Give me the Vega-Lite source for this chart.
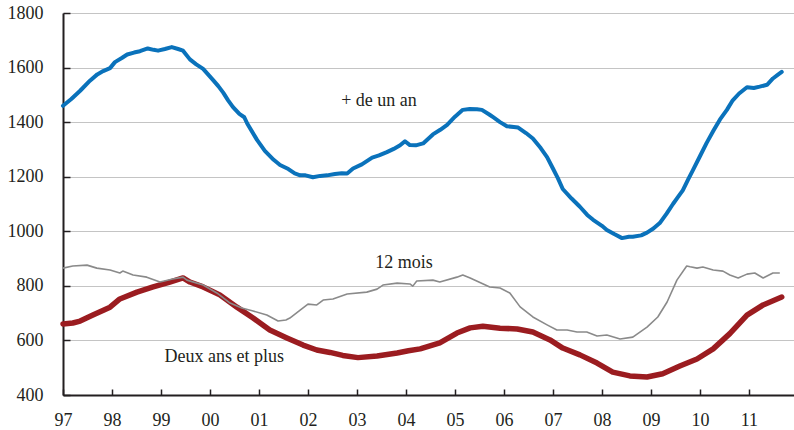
{
  "$schema": "https://vega.github.io/schema/vega-lite/v6.json",
  "width": 731,
  "height": 382,
  "autosize": {"type": "none"},
  "padding": {"left": 63, "top": 13, "right": 0, "bottom": 35},
  "background": "white",
  "config": {
    "view": {"stroke": null},
    "font": "Liberation Serif",
    "axis": {
      "domainColor": "#231f20",
      "domainWidth": 2,
      "tickColor": "#231f20",
      "tickWidth": 1.5,
      "labelColor": "#231f20",
      "labelFont": "Liberation Serif",
      "labelFontSize": 18,
      "title": null
    },
    "axisX": {"grid": false, "tickSize": -6, "labelPadding": 22, "labelFlush": false},
    "axisY": {"grid": true, "gridColor": "#c4c4c4", "gridWidth": 1.2, "tickSize": -7, "labelPadding": 27}
  },
  "datasets": {
    "series": [
      {"series": "Deux ans et plus", "year": 1997.00, "value": 660},
      {"series": "Deux ans et plus", "year": 1997.20, "value": 664},
      {"series": "Deux ans et plus", "year": 1997.35, "value": 671},
      {"series": "Deux ans et plus", "year": 1997.61, "value": 693},
      {"series": "Deux ans et plus", "year": 1997.96, "value": 722},
      {"series": "Deux ans et plus", "year": 1998.16, "value": 752},
      {"series": "Deux ans et plus", "year": 1998.51, "value": 777},
      {"series": "Deux ans et plus", "year": 1998.84, "value": 796},
      {"series": "Deux ans et plus", "year": 1999.18, "value": 814},
      {"series": "Deux ans et plus", "year": 1999.45, "value": 829},
      {"series": "Deux ans et plus", "year": 1999.59, "value": 814},
      {"series": "Deux ans et plus", "year": 1999.86, "value": 796},
      {"series": "Deux ans et plus", "year": 2000.20, "value": 767},
      {"series": "Deux ans et plus", "year": 2000.55, "value": 722},
      {"series": "Deux ans et plus", "year": 2000.88, "value": 682},
      {"series": "Deux ans et plus", "year": 2001.22, "value": 638},
      {"series": "Deux ans et plus", "year": 2001.57, "value": 609},
      {"series": "Deux ans et plus", "year": 2001.90, "value": 583},
      {"series": "Deux ans et plus", "year": 2002.18, "value": 565},
      {"series": "Deux ans et plus", "year": 2002.45, "value": 556},
      {"series": "Deux ans et plus", "year": 2002.71, "value": 545},
      {"series": "Deux ans et plus", "year": 2003.02, "value": 537},
      {"series": "Deux ans et plus", "year": 2003.41, "value": 543},
      {"series": "Deux ans et plus", "year": 2003.82, "value": 554},
      {"series": "Deux ans et plus", "year": 2004.05, "value": 562},
      {"series": "Deux ans et plus", "year": 2004.29, "value": 569},
      {"series": "Deux ans et plus", "year": 2004.69, "value": 591},
      {"series": "Deux ans et plus", "year": 2005.04, "value": 627},
      {"series": "Deux ans et plus", "year": 2005.31, "value": 646},
      {"series": "Deux ans et plus", "year": 2005.57, "value": 652},
      {"series": "Deux ans et plus", "year": 2005.92, "value": 645},
      {"series": "Deux ans et plus", "year": 2006.27, "value": 642},
      {"series": "Deux ans et plus", "year": 2006.59, "value": 631},
      {"series": "Deux ans et plus", "year": 2006.94, "value": 602},
      {"series": "Deux ans et plus", "year": 2007.20, "value": 572},
      {"series": "Deux ans et plus", "year": 2007.55, "value": 547},
      {"series": "Deux ans et plus", "year": 2007.90, "value": 517},
      {"series": "Deux ans et plus", "year": 2008.22, "value": 484},
      {"series": "Deux ans et plus", "year": 2008.57, "value": 470},
      {"series": "Deux ans et plus", "year": 2008.92, "value": 466},
      {"series": "Deux ans et plus", "year": 2009.24, "value": 478},
      {"series": "Deux ans et plus", "year": 2009.59, "value": 506},
      {"series": "Deux ans et plus", "year": 2009.94, "value": 532},
      {"series": "Deux ans et plus", "year": 2010.27, "value": 569},
      {"series": "Deux ans et plus", "year": 2010.61, "value": 625},
      {"series": "Deux ans et plus", "year": 2010.96, "value": 693},
      {"series": "Deux ans et plus", "year": 2011.29, "value": 730},
      {"series": "Deux ans et plus", "year": 2011.67, "value": 759},

      {"series": "12 mois", "year": 1997.00, "value": 865},
      {"series": "12 mois", "year": 1997.20, "value": 873},
      {"series": "12 mois", "year": 1997.49, "value": 876},
      {"series": "12 mois", "year": 1997.69, "value": 865},
      {"series": "12 mois", "year": 1997.96, "value": 858},
      {"series": "12 mois", "year": 1998.16, "value": 847},
      {"series": "12 mois", "year": 1998.22, "value": 854},
      {"series": "12 mois", "year": 1998.43, "value": 840},
      {"series": "12 mois", "year": 1998.71, "value": 832},
      {"series": "12 mois", "year": 1998.98, "value": 814},
      {"series": "12 mois", "year": 1999.24, "value": 825},
      {"series": "12 mois", "year": 1999.45, "value": 832},
      {"series": "12 mois", "year": 1999.53, "value": 821},
      {"series": "12 mois", "year": 1999.86, "value": 803},
      {"series": "12 mois", "year": 2000.14, "value": 774},
      {"series": "12 mois", "year": 2000.41, "value": 737},
      {"series": "12 mois", "year": 2000.65, "value": 719},
      {"series": "12 mois", "year": 2000.88, "value": 708},
      {"series": "12 mois", "year": 2001.16, "value": 693},
      {"series": "12 mois", "year": 2001.39, "value": 671},
      {"series": "12 mois", "year": 2001.55, "value": 675},
      {"series": "12 mois", "year": 2001.63, "value": 682},
      {"series": "12 mois", "year": 2001.84, "value": 711},
      {"series": "12 mois", "year": 2002.00, "value": 733},
      {"series": "12 mois", "year": 2002.18, "value": 730},
      {"series": "12 mois", "year": 2002.31, "value": 748},
      {"series": "12 mois", "year": 2002.51, "value": 752},
      {"series": "12 mois", "year": 2002.80, "value": 770},
      {"series": "12 mois", "year": 2003.20, "value": 777},
      {"series": "12 mois", "year": 2003.41, "value": 788},
      {"series": "12 mois", "year": 2003.53, "value": 803},
      {"series": "12 mois", "year": 2003.82, "value": 810},
      {"series": "12 mois", "year": 2004.08, "value": 807},
      {"series": "12 mois", "year": 2004.14, "value": 799},
      {"series": "12 mois", "year": 2004.22, "value": 818},
      {"series": "12 mois", "year": 2004.55, "value": 821},
      {"series": "12 mois", "year": 2004.69, "value": 814},
      {"series": "12 mois", "year": 2005.04, "value": 832},
      {"series": "12 mois", "year": 2005.16, "value": 840},
      {"series": "12 mois", "year": 2005.31, "value": 829},
      {"series": "12 mois", "year": 2005.71, "value": 796},
      {"series": "12 mois", "year": 2005.92, "value": 792},
      {"series": "12 mois", "year": 2006.12, "value": 774},
      {"series": "12 mois", "year": 2006.33, "value": 723},
      {"series": "12 mois", "year": 2006.59, "value": 686},
      {"series": "12 mois", "year": 2006.88, "value": 657},
      {"series": "12 mois", "year": 2007.08, "value": 638},
      {"series": "12 mois", "year": 2007.29, "value": 638},
      {"series": "12 mois", "year": 2007.49, "value": 631},
      {"series": "12 mois", "year": 2007.69, "value": 631},
      {"series": "12 mois", "year": 2007.90, "value": 616},
      {"series": "12 mois", "year": 2008.10, "value": 620},
      {"series": "12 mois", "year": 2008.37, "value": 605},
      {"series": "12 mois", "year": 2008.63, "value": 612},
      {"series": "12 mois", "year": 2008.92, "value": 649},
      {"series": "12 mois", "year": 2009.14, "value": 686},
      {"series": "12 mois", "year": 2009.33, "value": 741},
      {"series": "12 mois", "year": 2009.53, "value": 821},
      {"series": "12 mois", "year": 2009.73, "value": 873},
      {"series": "12 mois", "year": 2009.80, "value": 870},
      {"series": "12 mois", "year": 2009.94, "value": 865},
      {"series": "12 mois", "year": 2010.06, "value": 869},
      {"series": "12 mois", "year": 2010.27, "value": 858},
      {"series": "12 mois", "year": 2010.47, "value": 854},
      {"series": "12 mois", "year": 2010.61, "value": 840},
      {"series": "12 mois", "year": 2010.78, "value": 829},
      {"series": "12 mois", "year": 2010.96, "value": 843},
      {"series": "12 mois", "year": 2011.12, "value": 847},
      {"series": "12 mois", "year": 2011.29, "value": 829},
      {"series": "12 mois", "year": 2011.49, "value": 847},
      {"series": "12 mois", "year": 2011.63, "value": 847},

      {"series": "+ de un an", "year": 1997.00, "value": 1460},
      {"series": "+ de un an", "year": 1997.17, "value": 1485},
      {"series": "+ de un an", "year": 1997.35, "value": 1515},
      {"series": "+ de un an", "year": 1997.55, "value": 1552},
      {"series": "+ de un an", "year": 1997.70, "value": 1575},
      {"series": "+ de un an", "year": 1997.82, "value": 1587},
      {"series": "+ de un an", "year": 1997.96, "value": 1598},
      {"series": "+ de un an", "year": 1998.06, "value": 1620},
      {"series": "+ de un an", "year": 1998.20, "value": 1635},
      {"series": "+ de un an", "year": 1998.31, "value": 1648},
      {"series": "+ de un an", "year": 1998.45, "value": 1655},
      {"series": "+ de un an", "year": 1998.57, "value": 1660},
      {"series": "+ de un an", "year": 1998.73, "value": 1670},
      {"series": "+ de un an", "year": 1998.85, "value": 1665},
      {"series": "+ de un an", "year": 1998.94, "value": 1662},
      {"series": "+ de un an", "year": 1999.08, "value": 1668},
      {"series": "+ de un an", "year": 1999.22, "value": 1675},
      {"series": "+ de un an", "year": 1999.35, "value": 1668},
      {"series": "+ de un an", "year": 1999.45, "value": 1662},
      {"series": "+ de un an", "year": 1999.59, "value": 1630},
      {"series": "+ de un an", "year": 1999.72, "value": 1612},
      {"series": "+ de un an", "year": 1999.86, "value": 1595},
      {"series": "+ de un an", "year": 2000.06, "value": 1555},
      {"series": "+ de un an", "year": 2000.17, "value": 1532},
      {"series": "+ de un an", "year": 2000.27, "value": 1508},
      {"series": "+ de un an", "year": 2000.37, "value": 1480},
      {"series": "+ de un an", "year": 2000.47, "value": 1455},
      {"series": "+ de un an", "year": 2000.60, "value": 1430},
      {"series": "+ de un an", "year": 2000.70, "value": 1418},
      {"series": "+ de un an", "year": 2000.76, "value": 1395},
      {"series": "+ de un an", "year": 2000.96, "value": 1335},
      {"series": "+ de un an", "year": 2001.12, "value": 1295},
      {"series": "+ de un an", "year": 2001.30, "value": 1262},
      {"series": "+ de un an", "year": 2001.43, "value": 1243},
      {"series": "+ de un an", "year": 2001.60, "value": 1228},
      {"series": "+ de un an", "year": 2001.73, "value": 1212},
      {"series": "+ de un an", "year": 2001.84, "value": 1205},
      {"series": "+ de un an", "year": 2001.95, "value": 1205},
      {"series": "+ de un an", "year": 2002.10, "value": 1198},
      {"series": "+ de un an", "year": 2002.25, "value": 1203},
      {"series": "+ de un an", "year": 2002.39, "value": 1205},
      {"series": "+ de un an", "year": 2002.55, "value": 1210},
      {"series": "+ de un an", "year": 2002.69, "value": 1213},
      {"series": "+ de un an", "year": 2002.80, "value": 1212},
      {"series": "+ de un an", "year": 2002.92, "value": 1230},
      {"series": "+ de un an", "year": 2003.10, "value": 1245},
      {"series": "+ de un an", "year": 2003.31, "value": 1270},
      {"series": "+ de un an", "year": 2003.45, "value": 1278},
      {"series": "+ de un an", "year": 2003.61, "value": 1290},
      {"series": "+ de un an", "year": 2003.75, "value": 1302},
      {"series": "+ de un an", "year": 2003.88, "value": 1315},
      {"series": "+ de un an", "year": 2003.98, "value": 1330},
      {"series": "+ de un an", "year": 2004.08, "value": 1316},
      {"series": "+ de un an", "year": 2004.20, "value": 1315},
      {"series": "+ de un an", "year": 2004.35, "value": 1322},
      {"series": "+ de un an", "year": 2004.55, "value": 1355},
      {"series": "+ de un an", "year": 2004.70, "value": 1372},
      {"series": "+ de un an", "year": 2004.84, "value": 1390},
      {"series": "+ de un an", "year": 2005.00, "value": 1420},
      {"series": "+ de un an", "year": 2005.16, "value": 1445},
      {"series": "+ de un an", "year": 2005.30, "value": 1448},
      {"series": "+ de un an", "year": 2005.45, "value": 1447},
      {"series": "+ de un an", "year": 2005.55, "value": 1445},
      {"series": "+ de un an", "year": 2005.70, "value": 1428},
      {"series": "+ de un an", "year": 2005.78, "value": 1418},
      {"series": "+ de un an", "year": 2005.92, "value": 1400},
      {"series": "+ de un an", "year": 2006.06, "value": 1385},
      {"series": "+ de un an", "year": 2006.20, "value": 1382},
      {"series": "+ de un an", "year": 2006.29, "value": 1380},
      {"series": "+ de un an", "year": 2006.45, "value": 1360},
      {"series": "+ de un an", "year": 2006.59, "value": 1340},
      {"series": "+ de un an", "year": 2006.75, "value": 1305},
      {"series": "+ de un an", "year": 2006.88, "value": 1272},
      {"series": "+ de un an", "year": 2007.00, "value": 1230},
      {"series": "+ de un an", "year": 2007.10, "value": 1195},
      {"series": "+ de un an", "year": 2007.20, "value": 1155},
      {"series": "+ de un an", "year": 2007.38, "value": 1120},
      {"series": "+ de un an", "year": 2007.55, "value": 1090},
      {"series": "+ de un an", "year": 2007.70, "value": 1060},
      {"series": "+ de un an", "year": 2007.82, "value": 1042},
      {"series": "+ de un an", "year": 2008.00, "value": 1020},
      {"series": "+ de un an", "year": 2008.10, "value": 1005},
      {"series": "+ de un an", "year": 2008.25, "value": 990},
      {"series": "+ de un an", "year": 2008.41, "value": 975},
      {"series": "+ de un an", "year": 2008.55, "value": 980},
      {"series": "+ de un an", "year": 2008.63, "value": 980},
      {"series": "+ de un an", "year": 2008.80, "value": 985},
      {"series": "+ de un an", "year": 2008.92, "value": 995},
      {"series": "+ de un an", "year": 2009.05, "value": 1010},
      {"series": "+ de un an", "year": 2009.18, "value": 1030},
      {"series": "+ de un an", "year": 2009.32, "value": 1065},
      {"series": "+ de un an", "year": 2009.45, "value": 1100},
      {"series": "+ de un an", "year": 2009.55, "value": 1125},
      {"series": "+ de un an", "year": 2009.65, "value": 1150},
      {"series": "+ de un an", "year": 2009.76, "value": 1190},
      {"series": "+ de un an", "year": 2009.86, "value": 1225},
      {"series": "+ de un an", "year": 2010.00, "value": 1275},
      {"series": "+ de un an", "year": 2010.14, "value": 1325},
      {"series": "+ de un an", "year": 2010.28, "value": 1370},
      {"series": "+ de un an", "year": 2010.41, "value": 1410},
      {"series": "+ de un an", "year": 2010.55, "value": 1445},
      {"series": "+ de un an", "year": 2010.67, "value": 1480},
      {"series": "+ de un an", "year": 2010.80, "value": 1505},
      {"series": "+ de un an", "year": 2010.96, "value": 1528},
      {"series": "+ de un an", "year": 2011.10, "value": 1525},
      {"series": "+ de un an", "year": 2011.22, "value": 1530},
      {"series": "+ de un an", "year": 2011.37, "value": 1537},
      {"series": "+ de un an", "year": 2011.49, "value": 1560},
      {"series": "+ de un an", "year": 2011.58, "value": 1572},
      {"series": "+ de un an", "year": 2011.67, "value": 1584}
    ],
    "labels": [
      {"label": "+ de un an", "year": 2003.45, "value": 1477},
      {"label": "12 mois", "year": 2003.96, "value": 884},
      {"label": "Deux ans et plus", "year": 2000.29, "value": 539}
    ]
  },
  "layer": [
    {
      "encoding": {
        "x": {
          "field": "year",
          "type": "quantitative",
          "title": null,
          "scale": {"domain": [1997, 2011.92], "nice": false, "zero": false},
          "axis": {
            "values": [1997, 1998, 1999, 2000, 2001, 2002, 2003, 2004, 2005, 2006, 2007, 2008, 2009, 2010, 2011],
            "labelExpr": "substring(toString(datum.value), 2, 4)"
          }
        },
        "y": {
          "field": "value",
          "type": "quantitative",
          "title": null,
          "scale": {"domain": [400, 1800], "nice": false, "zero": false},
          "axis": {"values": [400, 600, 800, 1000, 1200, 1400, 1600, 1800], "format": "d"}
        }
      },
      "layer": [
        {
          "data": {"name": "series"},
          "transform": [{"filter": "datum.series === 'Deux ans et plus'"}],
          "mark": {"type": "line", "color": "#9b1c20", "strokeWidth": 5.5, "strokeJoin": "round", "strokeCap": "round"}
        },
        {
          "data": {"name": "series"},
          "transform": [{"filter": "datum.series === '12 mois'"}],
          "mark": {"type": "line", "color": "#8a8a8a", "strokeWidth": 1.6, "strokeJoin": "round"}
        },
        {
          "data": {"name": "series"},
          "transform": [{"filter": "datum.series === '+ de un an'"}],
          "mark": {"type": "line", "color": "#0a72bb", "strokeWidth": 4, "strokeJoin": "round", "strokeCap": "round"}
        },
        {
          "data": {"name": "labels"},
          "mark": {"type": "text", "font": "Liberation Serif", "fontSize": 18, "color": "#231f20", "align": "center", "baseline": "middle"},
          "encoding": {"text": {"field": "label"}}
        }
      ]
    },
    {
      "mark": {"type": "rule", "color": "#231f20", "strokeWidth": 2},
      "encoding": {"y": {"datum": 1800}}
    }
  ]
}
